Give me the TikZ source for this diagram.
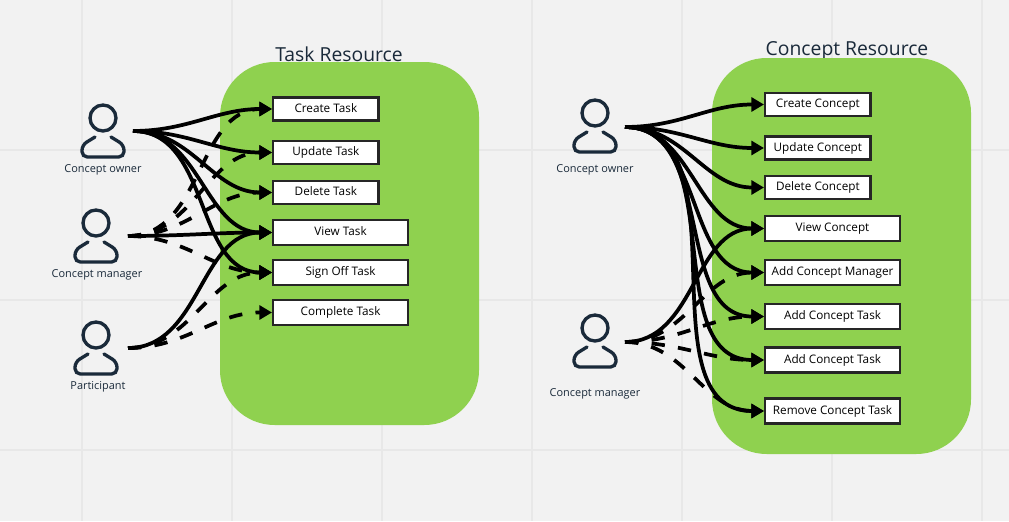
\documentclass[tikz,border=0pt]{standalone}
\usepackage{fontspec}
\setmainfont{Open Sans}
\usetikzlibrary{arrows.meta}

\begin{document}
\begin{tikzpicture}[x=0.75pt,y=-0.75pt,
    flow/.style={->,>={Triangle[length=9.5pt,width=10.5pt]},line width=2.8pt,black,out=0,in=180},
    dash flow/.style={flow,dash pattern=on 10pt off 10pt},
    action/.style={draw=black!85,line width=1.8pt,fill=white,inner sep=0pt,anchor=west,text height=6.5pt,text depth=1.5pt,font=\fontsize{8.8}{10}\selectfont},
    short action/.style={action,minimum width=79pt,minimum height=17.5pt},
    long action/.style={action,minimum width=101pt,minimum height=18.8pt},
    panel/.style={fill=green1,rounded corners=41pt,inner sep=0pt,minimum width=194.25pt},
    title/.style={text=ink,font=\fontsize{14.5}{17}\selectfont},
    role/.style={text=ink,font=\fontsize{8.2}{10}\selectfont},
    actor/.pic={
      \draw[ink,line width=2.5pt] (0,0) circle (13);
      \draw[ink,line width=2.5pt,line cap=round,rounded corners=4pt] (-8,19) -- (-21,27) -- (-21,39) -- (21,39) -- (21,27) -- (8,19);
    }]
  \definecolor{green1}{HTML}{8FD14F}
  \definecolor{ink}{HTML}{1A2A3A}
  \definecolor{gridline}{HTML}{E8E8E8}

  \useasboundingbox (0,0) rectangle (1009,521);
  \fill[black!5] (0,0) rectangle (1009,521);
  \foreach \x in {82,232,382,532,682,832,982}
    \draw[gridline,line width=1.1pt] (\x,0) -- (\x,521);
  \foreach \y in {150,300,450}
    \draw[gridline,line width=1.1pt] (0,\y) -- (1009,\y);

  % titles go under the panels
  \node[title] (tasktitle) at (339,54.5) {Task Resource};
  \node[title] (concepttitle) at (847,50.5) {Concept Resource};
  \node[panel,minimum height=272.25pt] (taskpanel) at (349.5,243.5) {};
  \node[panel,minimum height=297pt] (conceptpanel) at (841.5,256) {};

  % left side
  \pic at (103,118) {actor};
  \pic at (96,223) {actor};
  \pic at (96,335) {actor};
  \node[role] (ownerlabel) at (103,169.5) {Concept owner};
  \node[role] (managerlabel) at (97,274.5) {Concept manager};
  \node[role] (participantlabel) at (98,386.5) {Participant};
  \coordinate (owner) at (133,131);
  \coordinate (manager) at (128,236);
  \coordinate (participant) at (128,348);

  \node[short action] (create) at (272,109) {Create Task};
  \node[short action] (update) at (272,152.5) {Update Task};
  \node[short action] (delete) at (272,192.5) {Delete Task};
  \node[long action] (view) at (272,232.5) {View Task};
  \node[long action] (signoff) at (272,272.5) {Sign Off Task};
  \node[long action] (complete) at (272,312.5) {Complete Task};

  \path[flow]
  (owner) edge (create.west)
  (owner) edge (update.west)
  (owner) edge (delete.west)
  (owner) edge (view.west)
  (owner) edge (signoff.west)
  (manager) edge (view.west)
  (participant) edge (view.west);
  \path[dash flow]
  (manager) edge (create.west)
  (manager) edge (update.west)
  (manager) edge (delete.west)
  (manager) edge (signoff.west)
  (participant) edge (signoff.west)
  (participant) edge (complete.west);

  % right side
  \pic at (595,113) {actor};
  \pic at (595,328) {actor};
  \node[role] (cownerlabel) at (595,169.5) {Concept owner};
  \node[role] (cmanagerlabel) at (595,393.5) {Concept manager};
  \coordinate (cowner) at (625,127);
  \coordinate (cmanager) at (625,342);

  \node[short action] (ccreate) at (764,104.5) {Create Concept};
  \node[short action] (cupdate) at (764,148) {Update Concept};
  \node[short action] (cdelete) at (764,187.5) {Delete Concept};
  \node[long action] (cview) at (764,228.5) {View Concept};
  \node[long action] (caddmanager) at (764,272.5) {Add Concept Manager};
  \node[long action] (caddtask) at (764,316.5) {Add Concept Task};
  \node[long action] (caddtasktwo) at (764,360) {Add Concept Task};
  \node[long action] (cremove) at (764,411) {Remove Concept Task};

  \foreach \target in {ccreate,cupdate,cdelete,cview,caddmanager,caddtask,caddtasktwo,cremove}
    \path[flow] (cowner) edge (\target.west);
  \path[flow] (cmanager) edge (cview.west);
  \path[dash flow]
  (cmanager) edge (caddmanager.west)
  (cmanager) edge (caddtask.west)
  (cmanager) edge (caddtasktwo.west)
  (cmanager) edge (cremove.west);
\end{tikzpicture}
\end{document}
